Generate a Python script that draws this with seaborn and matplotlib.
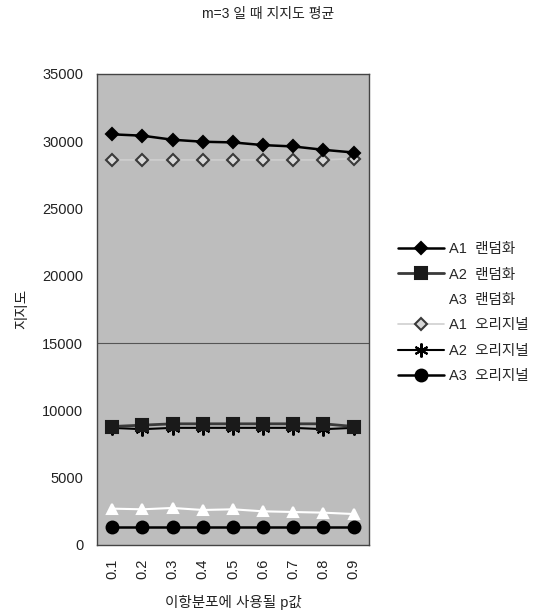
import matplotlib
matplotlib.use("Agg")
import matplotlib.pyplot as plt
import seaborn as sns
import pandas as pd

sns.set_theme(style="white")
plt.rcParams['font.family'] = ['Liberation Sans', 'Noto Sans CJK KR', 'DejaVu Sans']

p_values = ["0.1", "0.2", "0.3", "0.4", "0.5", "0.6", "0.7", "0.8", "0.9"]

a1_random = [30500, 30400, 30100, 29950, 29900, 29700, 29600, 29350, 29150]
a2_random = [8800, 8900, 9000, 9000, 9000, 9000, 9000, 9000, 8800]
a3_random = [2700, 2650, 2750, 2600, 2650, 2500, 2450, 2400, 2300]
a1_original = [28600, 28600, 28600, 28600, 28600, 28600, 28600, 28600, 28700]
a2_original = [8700, 8600, 8700, 8700, 8700, 8700, 8700, 8600, 8700]
a3_original = [1300, 1300, 1300, 1300, 1300, 1300, 1300, 1300, 1300]

series_names = ["A1  랜덤화", "A2  랜덤화", "A3  랜덤화",
                "A1  오리지널", "A2  오리지널", "A3  오리지널"]
series_values = [a1_random, a2_random, a3_random,
                 a1_original, a2_original, a3_original]

rows = []
for name, vals in zip(series_names, series_values):
    for i, (p, v) in enumerate(zip(p_values, vals)):
        rows.append({"series": name, "pos": i, "p": p, "value": v})
df = pd.DataFrame(rows)

styles = {
    "A1  랜덤화": dict(color="black", marker="D", markersize=6.5, mfc="black", mec="black", lw=1.8, z=6),
    "A2  랜덤화": dict(color="#3a3a3a", marker="s", markersize=8, mfc="#1a1a1a", mec="#1a1a1a", lw=2.0, z=5),
    "A3  랜덤화": dict(color="white", marker="^", markersize=7, mfc="white", mec="white", lw=1.5, z=3),
    "A1  오리지널": dict(color="#cfcfcf", marker="D", markersize=6.5, mfc="#d8d8d8", mec="#3a3a3a", lw=1.2, z=3),
    "A2  오리지널": dict(color="black", marker=(6, 2, 0), markersize=10, mfc="black", mec="black", lw=1.5, z=4),
    "A3  오리지널": dict(color="black", marker="o", markersize=8.5, mfc="black", mec="black", lw=1.8, z=6),
}

fig = plt.figure(figsize=(5.36, 6.12), dpi=100)
ax = fig.add_axes([0.181, 0.1095, 0.507, 0.77])
ax.set_facecolor("#bdbdbd")

for name in series_names:
    st = styles[name]
    sub = df[df["series"] == name]
    sns.lineplot(data=sub, x="pos", y="value", ax=ax, color=st["color"],
                 linewidth=st["lw"], marker=st["marker"], markersize=st["markersize"],
                 markerfacecolor=st["mfc"], markeredgecolor=st["mec"],
                 markeredgewidth=1.5, label=name, zorder=st["z"], legend=False)

ax.set_xlim(-0.5, 8.5)
ax.set_ylim(0, 35000)
ax.set_yticks(range(0, 35001, 5000))
ax.set_yticklabels([str(v) for v in range(0, 35001, 5000)], fontsize=10.5, color="#222222")
ax.set_xticks(range(len(p_values)))
ax.set_xticklabels(p_values, rotation=90, fontsize=10.5, color="#222222")
ax.tick_params(axis="both", length=0)
ax.tick_params(axis="y", pad=10)
ax.tick_params(axis="x", pad=10)
ax.axhline(15000, color="#555555", lw=0.8, zorder=1)

for s in ax.spines.values():
    s.set_color("#444444")
    s.set_linewidth(1.0)

ax.set_xlabel("이항분포에 사용될 p값", fontsize=10.5, color="#222222", labelpad=11)
ax.set_ylabel("지지도", fontsize=10.5, color="#222222", labelpad=9)
fig.text(0.5, 0.977, "m=3 일 때 지지도 평균", ha="center", va="center",
         fontsize=10, color="#222222")

handles, labels = ax.get_legend_handles_labels()
leg = ax.legend(handles, labels, loc="upper left", bbox_to_anchor=(1.085, 0.655),
                frameon=False, fontsize=10.5, handlelength=3.2, labelspacing=0.78,
                handletextpad=0.3, borderaxespad=0)

fig.savefig("out.png", dpi=100, facecolor="white")
